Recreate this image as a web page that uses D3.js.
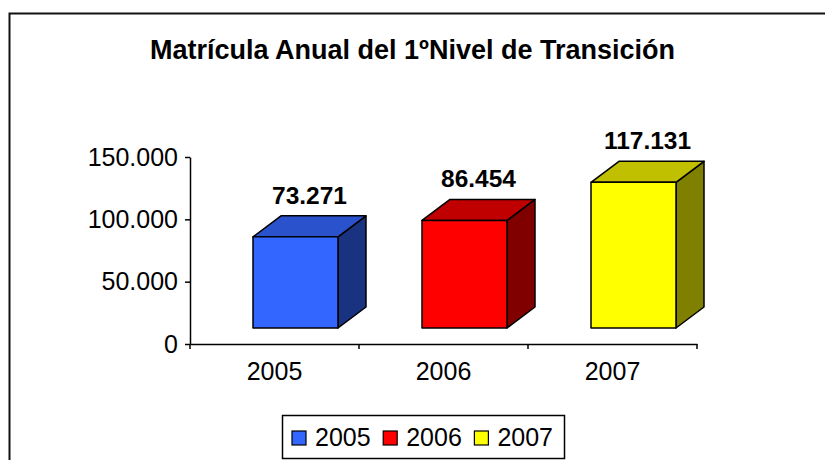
<!DOCTYPE html>
<html>
<head>
  <meta charset="utf-8" />
  <title>Matrícula Anual del 1ºNivel de Transición</title>
  <style>
    body { margin: 0; background: #fff; }
    svg { display: block; font-family: "Liberation Sans", Arial, sans-serif; }
  </style>
</head>
<body>
  <div id="chart"></div>
  <script src="https://cdn.jsdelivr.net/npm/d3@7"></script>
  <script>
    var years = ["2005", "2006", "2007"];
    var matricula = [73271, 86454, 117131];
    var yTicks = [0, 50000, 100000, 150000];

    // front / top / side shades per bar
    var frontColors = ["#3366ff", "#ff0000", "#ffff00"];
    var topColors = ["#2952cc", "#c00000", "#c0c000"];
    var sideColors = ["#1a3380", "#800000", "#808000"];

    var width = 825, height = 460;
    var depthX = 28, depthY = 21, barW = 85, barOffset = 63;

    var fmt = d3.formatLocale({ decimal: ",", thousands: ".", grouping: [3], currency: ["", ""] }).format(",d");

    var svg = d3.select("#chart").append("svg")
      .attr("width", width)
      .attr("height", height);

    svg.append("rect").attr("width", width).attr("height", height).attr("fill", "#fff");

    // chart frame (right and bottom edges fall outside the picture)
    svg.append("path")
      .attr("d", "M9.5," + height + "V13.5H" + width)
      .attr("fill", "none")
      .attr("stroke", "#111")
      .attr("stroke-width", 2);

    svg.append("text")
      .attr("x", 412.5)
      .attr("y", 59)
      .attr("text-anchor", "middle")
      .attr("font-size", 27)
      .attr("font-weight", "bold")
      .text("Matrícula Anual del 1ºNivel de Transición");

    var x = d3.scaleBand().domain(years).range([190, 697]);
    var y = d3.scaleLinear().domain([0, 150000]).range([344, 157]);
    // bars sit a little behind the axis plane
    var yBar = d3.scaleLinear().domain([0, 150000]).range([328, 141.4]);

    var yAxis = svg.append("g")
      .attr("transform", "translate(190,0)")
      .call(d3.axisLeft(y).tickValues(yTicks).tickFormat(fmt).tickSize(5).tickSizeOuter(0).tickPadding(7));
    yAxis.selectAll("text").attr("font-size", 25).attr("fill", "#000");
    yAxis.selectAll("line, path").attr("stroke", "#000").attr("stroke-width", 1.5);
    yAxis.attr("font-family", null);

    var xAxis = svg.append("g")
      .attr("transform", "translate(0,344)")
      .call(d3.axisBottom(x).tickSize(0).tickSizeOuter(0).tickPadding(18));
    xAxis.selectAll("text").attr("font-size", 25).attr("fill", "#000");
    xAxis.selectAll("path").attr("stroke", "#000").attr("stroke-width", 1.5);
    xAxis.attr("font-family", null);

    // category boundary ticks
    var bounds = d3.range(years.length + 1).map(function (i) { return x.range()[0] + i * x.step(); });
    xAxis.selectAll(".bound").data(bounds).enter().append("line")
      .attr("x1", function (d) { return d; })
      .attr("x2", function (d) { return d; })
      .attr("y1", 0)
      .attr("y2", 5)
      .attr("stroke", "#000")
      .attr("stroke-width", 1.5);

    var bars = svg.append("g").selectAll("g")
      .data(years.map(function (d, i) { return { year: d, value: matricula[i], i: i }; }))
      .enter().append("g");

    bars.each(function (d) {
      var g = d3.select(this);
      var x0 = x(d.year) + barOffset;
      var yt = yBar(d.value), yb = yBar(0);
      g.append("polygon")
        .attr("points", [[x0 + barW, yt], [x0 + barW + depthX, yt - depthY], [x0 + barW + depthX, yb - depthY], [x0 + barW, yb]].join(" "))
        .attr("fill", sideColors[d.i]);
      g.append("polygon")
        .attr("points", [[x0, yt], [x0 + depthX, yt - depthY], [x0 + barW + depthX, yt - depthY], [x0 + barW, yt]].join(" "))
        .attr("fill", topColors[d.i]);
      g.append("rect")
        .attr("x", x0).attr("y", yt)
        .attr("width", barW).attr("height", yb - yt)
        .attr("fill", frontColors[d.i]);
      g.selectAll("polygon, rect")
        .attr("stroke", "#000").attr("stroke-width", 1.5).attr("stroke-linejoin", "round");
      g.append("text")
        .attr("x", x0 + (barW + depthX) / 2)
        .attr("y", yt - depthY - 12)
        .attr("text-anchor", "middle")
        .attr("font-size", 24.5)
        .attr("font-weight", "bold")
        .text(fmt(d.value));
    });

    // legend
    var legend = svg.append("g");
    legend.append("rect")
      .attr("x", 282.5).attr("y", 415.5)
      .attr("width", 282).attr("height", 43)
      .attr("fill", "#fff").attr("stroke", "#000").attr("stroke-width", 1.5);
    var item = legend.selectAll(".item").data(years).enter().append("g")
      .attr("transform", function (d, i) { return "translate(" + (292 + i * 91.2) + ",0)"; });
    item.append("rect")
      .attr("x", 0).attr("y", 431)
      .attr("width", 14).attr("height", 14)
      .attr("fill", function (d, i) { return frontColors[i]; })
      .attr("stroke", "#000").attr("stroke-width", 1.2);
    item.append("text")
      .attr("x", 23).attr("y", 446)
      .attr("font-size", 25)
      .text(function (d) { return d; });
  </script>
</body>
</html>
